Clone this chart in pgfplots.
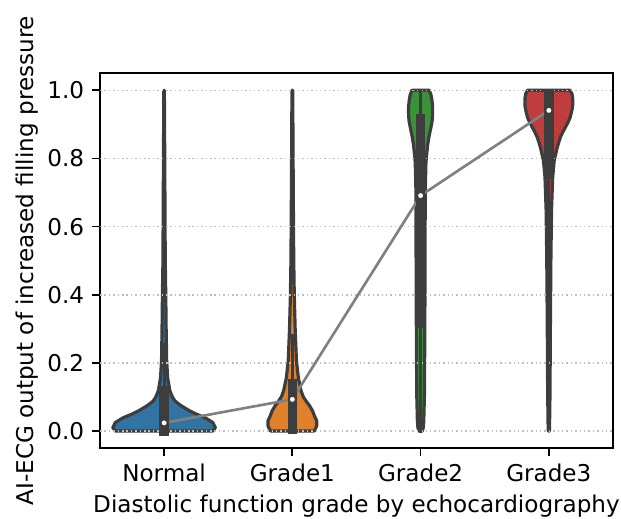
\documentclass[border=0pt]{standalone}
\usepackage{pgfplots}
\pgfplotsset{compat=1.18}
\usepackage{fontspec}
\setmainfont{DejaVu Sans}
\definecolor{cN}{RGB}{50,116,161}
\definecolor{cA}{RGB}{225,129,44}
\definecolor{cB}{RGB}{58,146,58}
\definecolor{cC}{RGB}{192,61,62}
\definecolor{vgray}{RGB}{61,61,61}
\definecolor{gridc}{RGB}{190,190,190}
\begin{document}
\begin{tikzpicture}
\begin{axis}[
  at={(0,0)}, anchor=south west,
  scale only axis, width=233.2pt, height=170.4pt,
  xmin=-0.5, xmax=3.5, ymin=-0.05, ymax=1.05,
  xtick={0,1,2,3}, xticklabels={Normal,Grade1,Grade2,Grade3},
  ytick={0,0.2,0.4,0.6,0.8,1.0},
  yticklabel style={/pgf/number format/.cd, fixed, fixed zerofill, precision=1},
  /pgf/number format/assume math mode=true,
  tick align=outside, major tick length=3.7pt,
  tick style={black, line width=0.8pt},
  xtick pos=left, ytick pos=left,
  axis line style={line width=0.8pt},
  ticklabel style={font=\fontsize{10.5}{12}\selectfont},
  label style={font=\fontsize{10.5}{12}\selectfont},
  xlabel={Diastolic function grade by echocardiography},
  ylabel={AI-ECG output of increased filling pressure},
  xlabel style={at={(axis description cs:0.5,-0.155)}, anchor=center},
  ylabel style={at={(axis description cs:-0.1415,0.5)}, anchor=center},
]
% Violins
\addplot[fill=cN, draw=vgray, line width=1.45pt, line join=round] coordinates {
(0.38,0) (0.40,0.01) (0.38,0.025) (0.325,0.038) (0.25,0.05) (0.20,0.059) (0.13,0.075) (0.085,0.088) (0.065,0.10) (0.045,0.118) (0.028,0.156) (0.02,0.206) (0.016,0.3) (0.013,0.4) (0.009,0.5) (0.005,0.8) (0.002,1.0)
(-0.002,1.0) (-0.005,0.8) (-0.009,0.5) (-0.013,0.4) (-0.016,0.3) (-0.02,0.206) (-0.028,0.156) (-0.045,0.118) (-0.065,0.10) (-0.085,0.088) (-0.13,0.075) (-0.20,0.059) (-0.25,0.05) (-0.325,0.038) (-0.38,0.025) (-0.40,0.01) (-0.38,0)
} -- cycle;
\addplot[fill=cA, draw=vgray, line width=1.45pt, line join=round] coordinates {
(1.17,0) (1.19,0.015) (1.19,0.03) (1.172,0.045) (1.158,0.059) (1.133,0.075) (1.107,0.088) (1.086,0.10) (1.068,0.118) (1.047,0.156) (1.032,0.206) (1.022,0.3) (1.015,0.4) (1.011,0.5) (1.009,0.6) (1.006,0.79) (1.003,1.0)
(0.997,1.0) (0.994,0.79) (0.991,0.6) (0.989,0.5) (0.985,0.4) (0.978,0.3) (0.968,0.206) (0.953,0.156) (0.932,0.118) (0.914,0.10) (0.893,0.088) (0.867,0.075) (0.842,0.059) (0.828,0.045) (0.81,0.03) (0.81,0.015) (0.83,0)
} -- cycle;
\addplot[fill=cB, draw=vgray, line width=1.45pt, line join=round] coordinates {
(2.013,0) (2.021,0.01) (2.025,0.03) (2.03,0.108) (2.033,0.3) (2.035,0.5) (2.036,0.7) (2.042,0.79) (2.055,0.84) (2.066,0.865) (2.081,0.892) (2.09,0.91) (2.094,0.93) (2.094,0.95) (2.089,0.97) (2.082,0.985) (2.068,1.0)
(1.932,1.0) (1.918,0.985) (1.911,0.97) (1.906,0.95) (1.906,0.93) (1.91,0.91) (1.919,0.892) (1.934,0.865) (1.945,0.84) (1.958,0.79) (1.964,0.7) (1.965,0.5) (1.967,0.3) (1.97,0.108) (1.975,0.03) (1.979,0.01) (1.987,0)
} -- cycle;
\addplot[fill=cC, draw=vgray, line width=1.45pt, line join=round] coordinates {
(3.005,0) (3.009,0.108) (3.012,0.3) (3.016,0.5) (3.021,0.647) (3.03,0.745) (3.042,0.794) (3.066,0.833) (3.078,0.848) (3.091,0.863) (3.11,0.878) (3.13,0.892) (3.148,0.905) (3.166,0.92) (3.176,0.935) (3.185,0.951) (3.187,0.965) (3.185,0.98) (3.18,0.99) (3.166,1.0)
(2.834,1.0) (2.82,0.99) (2.815,0.98) (2.813,0.965) (2.815,0.951) (2.824,0.935) (2.834,0.92) (2.852,0.905) (2.87,0.892) (2.89,0.878) (2.909,0.863) (2.922,0.848) (2.934,0.833) (2.958,0.794) (2.97,0.745) (2.979,0.647) (2.984,0.5) (2.988,0.3) (2.991,0.108) (2.995,0)
} -- cycle;
% horizontal grid lines (drawn above violin bodies, below lines)
\pgfplotsinvokeforeach{0,0.2,0.4,0.6,0.8,1.0}{
  \addplot[gridc, line width=0.7pt, dash pattern=on 0.7pt off 1.3pt] coordinates {(-0.5,#1) (3.5,#1)};
}
% connecting line of medians
\addplot[gray, line width=1.2pt] coordinates {(0,0.024) (1,0.093) (2,0.691) (3,0.941)};
% whiskers
\addplot[vgray, line width=1.45pt, line cap=rect] coordinates {(0,0) (0,0.255)};
\addplot[vgray, line width=1.45pt, line cap=rect] coordinates {(1,0) (1,0.28)};
\addplot[vgray, line width=1.45pt, line cap=rect] coordinates {(2,0) (2,1.0)};
\addplot[vgray, line width=1.45pt, line cap=rect] coordinates {(3,0.375) (3,1.0)};
% boxes
\addplot[vgray, line width=4.4pt, line cap=rect] coordinates {(0,0) (0,0.118)};
\addplot[vgray, line width=4.4pt, line cap=rect] coordinates {(1,0.005) (1,0.14)};
\addplot[vgray, line width=4.4pt, line cap=rect] coordinates {(2,0.318) (2,0.916)};
\addplot[vgray, line width=4.4pt, line cap=rect] coordinates {(3,0.755) (3,0.99)};
% medians
\addplot[only marks, mark=*, mark size=1.5pt, mark options={fill=white, draw=vgray, line width=0.6pt}] coordinates {(0,0.024) (1,0.093) (2,0.691) (3,0.941)};
\end{axis}
\pgfresetboundingbox
\path (-45.45pt,-31.8pt) rectangle (236.85pt,203.7pt);
\end{tikzpicture}
\end{document}
